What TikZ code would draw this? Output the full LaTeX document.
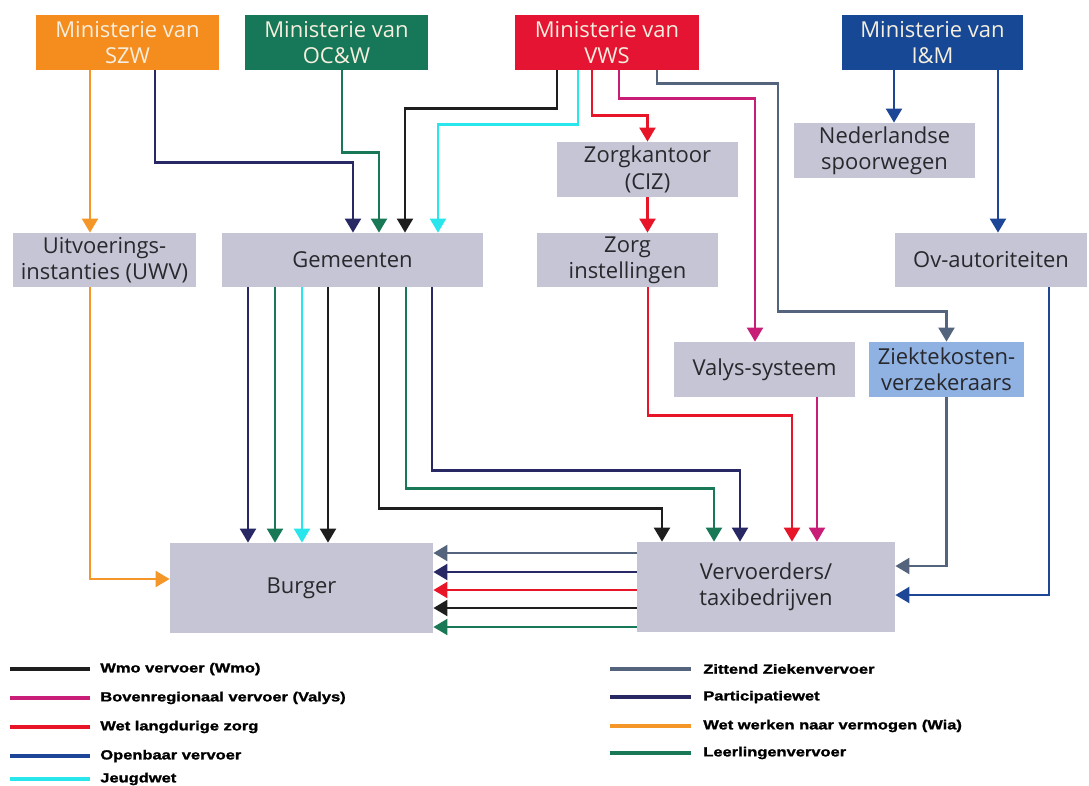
\documentclass[tikz,border=0pt]{standalone}
\usepackage{fontspec}
\setmainfont{Open Sans}
\newfontfamily\legfont{Liberation Sans}[FakeStretch=1.25, FakeBold=1.5]
\usetikzlibrary{arrows.meta, calc}

\definecolor{boxgray}{RGB}{197,197,213}
\definecolor{boxblue}{RGB}{143,178,226}
\definecolor{textgray}{RGB}{40,40,45}
\definecolor{minitext}{RGB}{246,238,222}
\definecolor{szwcol}{RGB}{244,140,30}
\definecolor{ocwcol}{RGB}{22,120,88}
\definecolor{vwscol}{RGB}{228,20,50}
\definecolor{iemcol}{RGB}{22,72,150}
\definecolor{cwmo}{RGB}{30,30,30}
\definecolor{cvalys}{RGB}{200,30,120}
\definecolor{cwlz}{RGB}{232,20,40}
\definecolor{cov}{RGB}{30,70,150}
\definecolor{cjeugd}{RGB}{40,230,235}
\definecolor{czz}{RGB}{85,100,125}
\definecolor{cpart}{RGB}{40,40,100}
\definecolor{cwia}{RGB}{245,150,40}
\definecolor{cleer}{RGB}{25,120,85}

\begin{document}
\begin{tikzpicture}[x = 0.02cm, y = -0.02cm, > = {Triangle[width = 9pt, length = 8pt]},
	box/.style = {fill = boxgray, text = textgray, align = center, inner sep = 1pt,
		font = \fontsize{12.5}{15}\selectfont},
	mini/.style = {box, fill = #1, text = minitext},
	sz/.style 2 args = {minimum width = #1*0.02cm, minimum height = #2*0.02cm},
	wmo line/.style = {draw = cwmo, line width = 1.6pt},
	valys line/.style = {draw = cvalys, line width = 1.6pt},
	wlz line/.style = {draw = cwlz, line width = 1.6pt},
	ov line/.style = {draw = cov, line width = 1.6pt},
	jeugd line/.style = {draw = cjeugd, line width = 1.6pt},
	zz line/.style = {draw = czz, line width = 1.6pt},
	part line/.style = {draw = cpart, line width = 1.6pt},
	wia line/.style = {draw = cwia, line width = 1.6pt},
	leer line/.style = {draw = cleer, line width = 1.6pt},
	legtxt/.style = {anchor = west, inner sep = 0pt, text = black,
		font = \legfont\bfseries\fontsize{7.5}{9}\selectfont}]

	\useasboundingbox (0, 0) rectangle (1089, 785);

	% Ministeries

	\node [mini = szwcol, sz = {183}{55}] (szw) at (127.5, 42.5) {Ministerie van\\SZW};
	\node [mini = ocwcol, sz = {183}{55}] (ocw) at (336.5, 42.5) {Ministerie van\\OC\&W};
	\node [mini = vwscol, sz = {184}{55}] (vws) at (607, 42.5) {Ministerie van\\VWS};
	\node [mini = iemcol, sz = {181}{55}] (iem) at (932.5, 42.5) {Ministerie van\\I\&M};

	% Uitvoerders

	\node [box, sz = {181}{55}] (ns) at (884.5, 150.5) {Nederlandse\\spoorwegen};
	\node [box, sz = {181}{55}] (zk) at (647.5, 169.5) {Zorgkantoor\\(CIZ)};
	\node [box, sz = {183}{54}] (uwv) at (104.5, 260) {Uitvoerings-\\instanties (UWV)};
	\node [box, sz = {261}{54}] (gem) at (352.5, 260) {Gemeenten};
	\node [box, sz = {181}{54}] (zi) at (627.5, 260) {Zorg\\instellingen};
	\node [box, sz = {192}{54}] (ovaut) at (991, 260) {Ov-autoriteiten};
	\node [box, sz = {181}{55}] (valys) at (764.5, 369.5) {Valys-systeem};
	\node [box, fill = boxblue, sz = {155}{55}] (zkv) at (946.5, 369.5) {Ziektekosten-\\verzekeraars};

	% Burger en vervoerders

	\node [box, sz = {263}{90}] (burger) at (301.5, 588) {Burger};
	\node [box, sz = {258}{90}] (verv) at (766, 587) {Vervoerders/\\taxibedrijven};

	% Vanuit de ministeries

	\draw [wia line, ->] ($(szw.south) + (-37.5, 0)$) coordinate (a) -- (a |- uwv.north);
	\draw [part line, ->] ($(szw.south) + (27.5, 0)$) -- ++(0, 92) -| ($(gem.north) + (0.5, 0)$);
	\draw [leer line, ->] ($(ocw.south) + (5.5, 0)$) -- ++(0, 82) -| ($(gem.north) + (26.5, 0)$);
	\draw [wmo line, ->] ($(vws.south) + (-50, 0)$) -- ++(0, 38) -| ($(gem.north) + (52.5, 0)$);
	\draw [jeugd line, ->] ($(vws.south) + (-29, 0)$) -- ++(0, 54) -| ($(gem.north) + (85.5, 0)$);
	\draw [wlz line, ->] ($(vws.south) + (-15, 0)$) -- ++(0, 45) -| (zk.north);
	\draw [valys line, ->] ($(vws.south) + (12, 0)$) -- ++(0, 28) -| ($(valys.north) + (-9.5, 0)$);
	\draw [zz line, ->] ($(vws.south) + (50, 0)$) -- ++(0, 13) -| ($(zkv.north) + (-168.5, -30)$) -| (zkv.north);
	\draw [ov line, ->] ($(iem.south) + (-38.5, 0)$) coordinate (b) -- (b |- ns.north);
	\draw [ov line, ->] ($(iem.south) + (65.5, 0)$) coordinate (c) -- (c |- ovaut.north);

	% Naar burger en vervoerders

	\draw [wlz line, ->] (zk.south) -- (zk.south |- zi.north);
	\draw [wlz line, ->] ($(zi.south) + (20.5, 0)$) -- ++(0, 128) -| ($(verv.north) + (26, 0)$);
	\draw [valys line, ->] ($(valys.south) + (52.5, 0)$) coordinate (d) -- (d |- verv.north);
	\draw [zz line, ->] (zkv.south) |- ($(verv.east) + (0, -21)$);
	\draw [ov line, ->] ($(ovaut.south) + (58, 0)$) |- ($(verv.east) + (0, 8)$);
	\draw [wia line, ->] ($(uwv.south) + (-14.5, 0)$) |- ($(burger.west) + (0, -9)$);

	\foreach \dx/\wet in {-104.5/part, -77.5/leer, -50.5/jeugd, -24.5/wmo}
		\draw [\wet\space line, ->] ($(gem.south) + (\dx, 0)$) coordinate (e) -- (e |- burger.north);

	\foreach \dx/\dy/\tx/\wet in {26.5/221/-104/wmo, 53.5/201/-52/leer, 79.5/183/-26/part}
		\draw [\wet\space line, ->] ($(gem.south) + (\dx, 0)$) -- ++(0, \dy) -| ($(verv.north) + (\tx, 0)$);

	\foreach \dy/\wet in {-34/zz, -15/part, 3/wlz, 21/wmo, 40/leer}
		\draw [\wet\space line, ->] ($(verv.west) + (0, \dy)$) coordinate (f) -- (f -| burger.east);

	% Legenda

	\foreach \y/\wet/\txt [count = \i] in {669/wmo/Wmo vervoer (Wmo), 698/valys/Bovenregionaal vervoer (Valys),
		727/wlz/Wet langdurige zorg, 756/ov/Openbaar vervoer, 779/jeugd/Jeugdwet}
	{
		\node [legtxt] (legl\i) at (100, \y) {\txt};
		\draw [\wet\space line, line width = 2pt] ($(legl\i.west) + (-10, 0)$) -- ++(-80, 0);
	}

	\foreach \y/\wet/\txt [count = \i] in {669/zz/Zittend Ziekenvervoer, 697/part/Participatiewet,
		726/wia/Wet werken naar vermogen (Wia), 753/leer/Leerlingenvervoer}
	{
		\node [legtxt] (legr\i) at (703, \y) {\txt};
		\draw [\wet\space line, line width = 2pt] ($(legr\i.west) + (-12, 0)$) -- ++(-81, 0);
	}

\end{tikzpicture}
\end{document}
